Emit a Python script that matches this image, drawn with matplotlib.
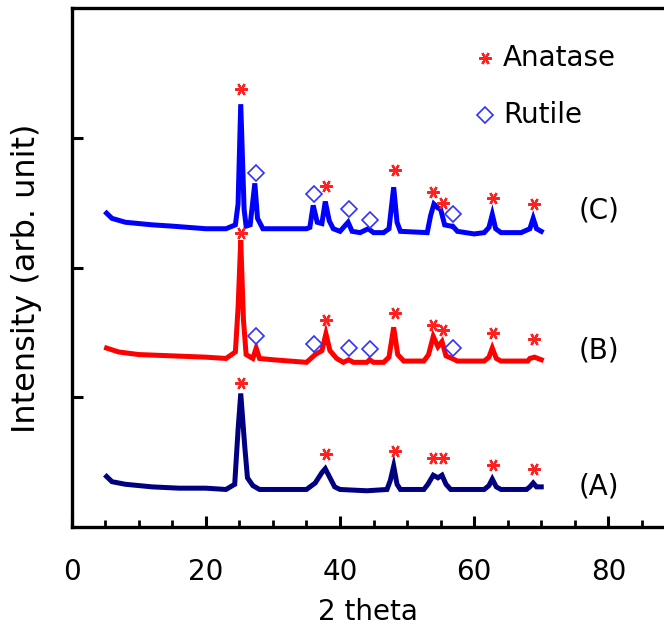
import matplotlib
matplotlib.use("Agg")
import matplotlib.pyplot as plt
from matplotlib.ticker import MultipleLocator

# XRD patterns (2 theta, intensity offset)
a_x = [5.2, 6, 8, 12, 16, 20, 23, 24.3, 24.8, 25.2, 25.8, 26.2, 27.0, 28, 32, 35,
       36.3, 37.3, 37.8, 38.5, 39.2, 40, 44, 47, 47.5, 48.0, 48.5, 49, 52.5, 53.1,
       53.9, 54.6, 55.2, 55.8, 56.5, 61.5, 62.2, 62.7, 63.3, 64, 67.8, 68.3, 68.8,
       69.3, 70]
a_y = [0.39, 0.35, 0.33, 0.31, 0.30, 0.30, 0.29, 0.33, 0.75, 1.03, 0.62, 0.38, 0.32,
       0.29, 0.29, 0.29, 0.34, 0.42, 0.45, 0.38, 0.31, 0.29, 0.28, 0.29, 0.36, 0.47,
       0.33, 0.29, 0.29, 0.33, 0.40, 0.38, 0.40, 0.33, 0.29, 0.29, 0.32, 0.37, 0.31,
       0.29, 0.29, 0.31, 0.34, 0.31, 0.31]

b_x = [5.2, 7, 10, 15, 20, 23, 24.4, 24.8, 25.2, 25.6, 26.0, 27.0, 27.5, 28, 30, 35,
       36.3, 37.3, 37.9, 38.5, 39.5, 40.5, 41.3, 42, 44, 44.4, 45, 46.5, 47.3, 48.0,
       48.6, 49.5, 52.5, 53.2, 53.9, 54.6, 55.2, 55.8, 56.7, 57.5, 61.5, 62.2, 62.7,
       63.3, 64, 68, 68.3, 69, 70]
b_y = [1.38, 1.35, 1.33, 1.32, 1.31, 1.30, 1.35, 1.69, 2.21, 1.60, 1.33, 1.30, 1.38,
       1.30, 1.29, 1.27, 1.33, 1.36, 1.49, 1.36, 1.30, 1.27, 1.29, 1.27, 1.27, 1.29,
       1.27, 1.27, 1.31, 1.54, 1.33, 1.28, 1.28, 1.33, 1.47, 1.39, 1.43, 1.32, 1.30,
       1.28, 1.28, 1.31, 1.38, 1.30, 1.28, 1.28, 1.30, 1.31, 1.29]

c_x = [5.2, 6, 8, 12, 15, 20, 23, 24.4, 24.8, 25.2, 25.7, 26.0, 26.6, 27.3, 27.7,
       28.5, 35, 35.5, 36.0, 36.6, 37.3, 37.8, 38.4, 39, 40, 41.2, 41.8, 43, 44.2, 45,
       46.5, 47.3, 48.0, 48.5, 49, 53, 53.5, 54.0, 54.6, 55.0, 55.6, 56.5, 56.8, 57.5,
       60, 61.5, 62.2, 62.7, 63.2, 64, 67, 68.3, 68.8, 69.3, 70]
c_y = [2.42, 2.38, 2.35, 2.33, 2.32, 2.30, 2.30, 2.33, 2.49, 3.26, 2.45, 2.32, 2.33,
       2.65, 2.38, 2.30, 2.30, 2.31, 2.48, 2.35, 2.34, 2.51, 2.36, 2.30, 2.28, 2.35,
       2.28, 2.27, 2.30, 2.27, 2.27, 2.30, 2.62, 2.35, 2.28, 2.27, 2.40, 2.49, 2.46,
       2.45, 2.33, 2.32, 2.32, 2.28, 2.26, 2.27, 2.31, 2.41, 2.30, 2.27, 2.27, 2.30,
       2.38, 2.30, 2.28]

# peak markers
anatase_x = [25.3, 37.9, 48.2, 53.9, 55.3, 62.8, 68.9]
anatase_a = [1.11, 0.56, 0.59, 0.53, 0.53, 0.48, 0.45]
anatase_b = [2.27, 1.60, 1.65, 1.56, 1.52, 1.50, 1.45]
anatase_c = [3.38, 2.63, 2.75, 2.58, 2.50, 2.54, 2.49]
rutile_x = [27.5, 36.1, 41.3, 44.4, 56.8]
rutile_b = [1.47, 1.41, 1.38, 1.37, 1.38]
rutile_c = [2.73, 2.57, 2.45, 2.37, 2.41]

sample_labels = ["(A)", "(B)", "(C)"]
sample_label_y = [0.31, 1.36, 2.44]

fig = plt.figure(figsize=(6.64, 6.32), dpi=100)
ax = fig.add_axes([0.108, 0.166, 0.892, 0.821])

lw = 3.6
ax.plot(a_x, a_y, color="#000080", lw=lw, solid_joinstyle="miter")
ax.plot(b_x, b_y, color="#ff0000", lw=lw, solid_joinstyle="miter")
ax.plot(c_x, c_y, color="#0000ff", lw=lw, solid_joinstyle="miter")

star = dict(marker=(6, 2, 90), ls="none", ms=9, mew=1.6, color="#ff2020")
diam = dict(marker="D", ls="none", ms=8, mew=1.2, mfc="white", mec="#3030ff")
ax.plot(anatase_x, anatase_a, **star)
ax.plot(anatase_x, anatase_b, **star)
ax.plot(anatase_x, anatase_c, **star)
ax.plot(rutile_x, rutile_b, **diam)
ax.plot(rutile_x, rutile_c, **diam)

# legend drawn as plain marks + text
ax.plot([61.6], [3.62], **star)
ax.plot([61.6], [3.18], **diam)
ax.text(64.3, 3.62, "Anatase", fontsize=20, va="center", ha="left")
ax.text(64.3, 3.18, "Rutile", fontsize=20, va="center", ha="left")

for lab, yy in zip(sample_labels, sample_label_y):
    ax.text(78.6, yy, lab, fontsize=20, va="center", ha="center")

ax.set_xlim(0, 88.3)
ax.set_ylim(0, 4.0)
ax.xaxis.set_major_locator(MultipleLocator(20))
ax.xaxis.set_minor_locator(MultipleLocator(5))
ax.set_yticks([1, 2, 3])
ax.set_yticklabels([])
ax.tick_params(axis="both", which="major", direction="in", length=8, width=2.2,
               labelsize=20, pad=22)
ax.tick_params(axis="x", which="minor", direction="in", length=5, width=2)
ax.tick_params(axis="y", which="both", left=True, right=False)
ax.tick_params(axis="x", which="both", top=False)

for side in ["left", "bottom", "top"]:
    ax.spines[side].set_linewidth(2.4)
ax.spines["right"].set_visible(False)

ax.set_xlabel("2 theta", fontsize=20, labelpad=9)
ax.set_ylabel("Intensity (arb. unit)", fontsize=23)
ax.yaxis.set_label_coords(-0.05, 0.48)

fig.savefig("out.png", dpi=100)
